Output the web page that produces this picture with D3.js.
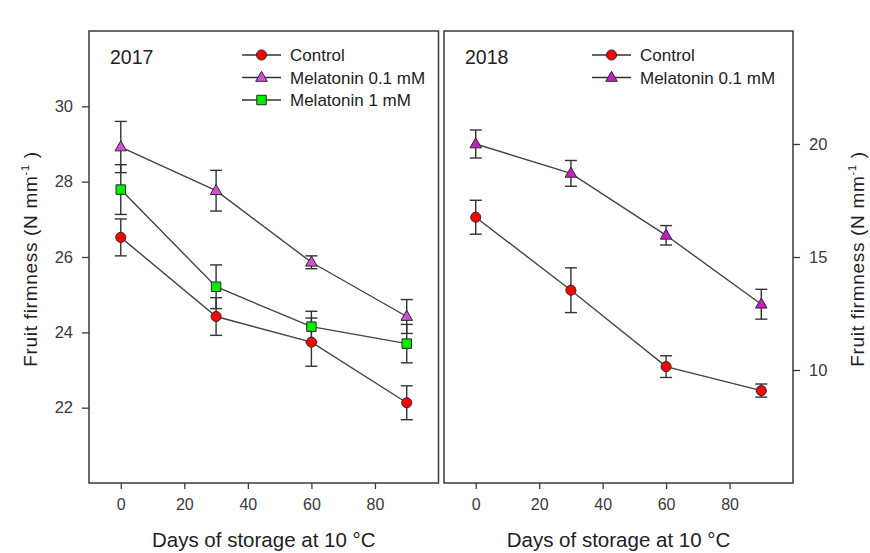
<!DOCTYPE html>
<html>
<head>
<meta charset="utf-8">
<script src="https://cdn.jsdelivr.net/npm/d3@7/dist/d3.min.js"></script>
<style>
  html, body { margin: 0; padding: 0; background: #fff; }
  svg { display: block; font-family: "Liberation Sans", Arial, sans-serif; }
</style>
</head>
<body>
<svg id="chart" width="870" height="553"></svg>
<script>
// ---- data ----
const days = [0, 30, 60, 90];
const xTicks = [0, 20, 40, 60, 80];
const yTicks2017 = [22, 24, 26, 28, 30];
const yTicks2018 = [10, 15, 20];

const control2017 = [26.52, 24.42, 23.74, 22.13];
const control2017Err = [0.49, 0.50, 0.64, 0.45];
const mel01_2017 = [28.92, 27.76, 25.86, 24.42];
const mel01_2017Err = [0.68, 0.54, 0.17, 0.45];
const mel1_2017 = [27.79, 25.21, 24.15, 23.70];
const mel1_2017Err = [0.66, 0.58, 0.41, 0.51];

const control2018 = [16.76, 13.53, 10.15, 9.09];
const control2018Err = [0.75, 0.99, 0.48, 0.29];
const mel01_2018 = [20.00, 18.70, 15.96, 12.91];
const mel01_2018Err = [0.62, 0.57, 0.43, 0.66];

const seriesNames = ["Control", "Melatonin 0.1 mM", "Melatonin 1 mM"];

// ---- styles ----
const styles = {
  "Control": { shape: d3.symbolCircle, size: 80, fill: "#ff0000" },
  "Melatonin 0.1 mM": { shape: d3.symbolTriangle, size: 58, fill: "#d050d0" },
  "Melatonin 1 mM": { shape: d3.symbolSquare, size: 90, fill: "#00ee00" }
};

const svg = d3.select("#chart");
const frameTop = 31, frameBottom = 483;

function panel(opts) {
  const x = d3.scaleLinear().domain([-10, 100]).range(opts.xRange);
  const y = d3.scaleLinear().domain(opts.yDomain).range([frameBottom, frameTop]);
  const g = svg.append("g");

  // frame
  g.append("rect")
    .attr("x", opts.xRange[0]).attr("y", frameTop)
    .attr("width", opts.xRange[1] - opts.xRange[0])
    .attr("height", frameBottom - frameTop)
    .attr("fill", "none").attr("stroke", "#3a3a3a").attr("stroke-width", 1.5);

  // x axis
  const xAxis = g.append("g")
    .attr("transform", `translate(0,${frameBottom})`)
    .call(d3.axisBottom(x).tickValues(xTicks).tickSize(6).tickPadding(10).tickFormat(d3.format("d")));
  xAxis.select(".domain").remove();
  xAxis.selectAll("line").attr("stroke", "#3a3a3a").attr("stroke-width", 1.3);
  xAxis.selectAll("text").attr("font-size", 16).attr("fill", "#3a3a3a")
    .attr("font-family", "Liberation Sans, Arial, sans-serif");

  // y axis
  const axisGen = opts.side === "left" ? d3.axisLeft(y) : d3.axisRight(y);
  const yAxis = g.append("g")
    .attr("transform", `translate(${opts.side === "left" ? opts.xRange[0] : opts.xRange[1]},0)`)
    .call(axisGen.tickValues(opts.yTicks).tickSize(7).tickPadding(9).tickFormat(d3.format("d")));
  yAxis.select(".domain").remove();
  yAxis.selectAll("line").attr("stroke", "#3a3a3a").attr("stroke-width", 1.3);
  yAxis.selectAll("text").attr("font-size", 16.5).attr("fill", "#3a3a3a")
    .attr("font-family", "Liberation Sans, Arial, sans-serif");

  // x title
  const cx = (opts.xRange[0] + opts.xRange[1]) / 2;
  g.append("text")
    .attr("x", cx).attr("y", 547)
    .attr("text-anchor", "middle").attr("font-size", 20.5).attr("fill", "#222")
    .text("Days of storage at 10 \u00B0C");

  // y title
  const ty = g.append("text")
    .attr("transform", `translate(${opts.titleX},${(frameTop + frameBottom) / 2 + 2}) rotate(-90)`)
    .attr("text-anchor", "middle").attr("font-size", 19).attr("letter-spacing", 0.7).attr("fill", "#222");
  ty.append("tspan").text("Fruit firmness (N mm");
  ty.append("tspan").attr("font-size", 11).attr("dy", -8).text("-1");
  ty.append("tspan").attr("dy", 8).text(" )");

  // year label
  g.append("text")
    .attr("x", opts.xRange[0] + 21).attr("y", 64)
    .attr("font-size", 19.5).attr("fill", "#222").text(opts.year);

  // series
  const line = d3.line().x((d, i) => x(days[i])).y(d => y(d));
  opts.series.forEach(s => {
    g.append("path").datum(s.values).attr("d", line)
      .attr("fill", "none").attr("stroke", "#444").attr("stroke-width", 1.4);
  });
  opts.series.forEach(s => {
    const eb = g.append("g");
    s.values.forEach((v, i) => {
      const xx = x(days[i]);
      const y1 = y(v + s.err[i]), y2 = y(v - s.err[i]);
      eb.append("line").attr("x1", xx).attr("x2", xx).attr("y1", y1).attr("y2", y2)
        .attr("stroke", "#333").attr("stroke-width", 1.4);
      [y1, y2].forEach(yy => {
        eb.append("line").attr("x1", xx - 6).attr("x2", xx + 6).attr("y1", yy).attr("y2", yy)
          .attr("stroke", "#333").attr("stroke-width", 1.4);
      });
    });
  });
  opts.series.forEach(s => {
    const st = styles[s.name];
    g.append("g").selectAll("path").data(s.values).join("path")
      .attr("transform", (d, i) => `translate(${x(days[i])},${y(d) + (st.shape === d3.symbolTriangle ? 0.5 : 0)})`)
      .attr("d", d3.symbol().type(st.shape).size(st.size))
      .attr("fill", s.fill || st.fill).attr("stroke", "#2a2a2a").attr("stroke-width", 1);
  });

  // legend
  opts.series.forEach((s, i) => {
    const st = styles[s.name];
    const ly = 55 + i * 22.5;
    const lx = opts.legendX;
    g.append("line").attr("x1", lx).attr("x2", lx + 39).attr("y1", ly).attr("y2", ly)
      .attr("stroke", "#333").attr("stroke-width", 1.4);
    g.append("path").attr("transform", `translate(${lx + 19.5},${ly + (st.shape === d3.symbolTriangle ? 0.5 : 0)})`)
      .attr("d", d3.symbol().type(st.shape).size(st.size))
      .attr("fill", s.fill || st.fill).attr("stroke", "#2a2a2a").attr("stroke-width", 1);
    g.append("text").attr("x", lx + 48).attr("y", ly + 6)
      .attr("font-size", 17).attr("fill", "#222").text(s.name);
  });
}

panel({
  year: "2017", side: "left", xRange: [89, 438.5], yDomain: [20, 32], yTicks: yTicks2017,
  titleX: 37, legendX: 242,
  series: [
    { name: seriesNames[0], values: control2017, err: control2017Err },
    { name: seriesNames[1], values: mel01_2017, err: mel01_2017Err },
    { name: seriesNames[2], values: mel1_2017, err: mel1_2017Err }
  ]
});

panel({
  year: "2018", side: "right", xRange: [444, 793], yDomain: [5, 25], yTicks: yTicks2018,
  titleX: 864, legendX: 592,
  series: [
    { name: seriesNames[0], values: control2018, err: control2018Err },
    { name: seriesNames[1], values: mel01_2018, err: mel01_2018Err, fill: "#c81ec8" }
  ]
});
</script>
</body>
</html>
